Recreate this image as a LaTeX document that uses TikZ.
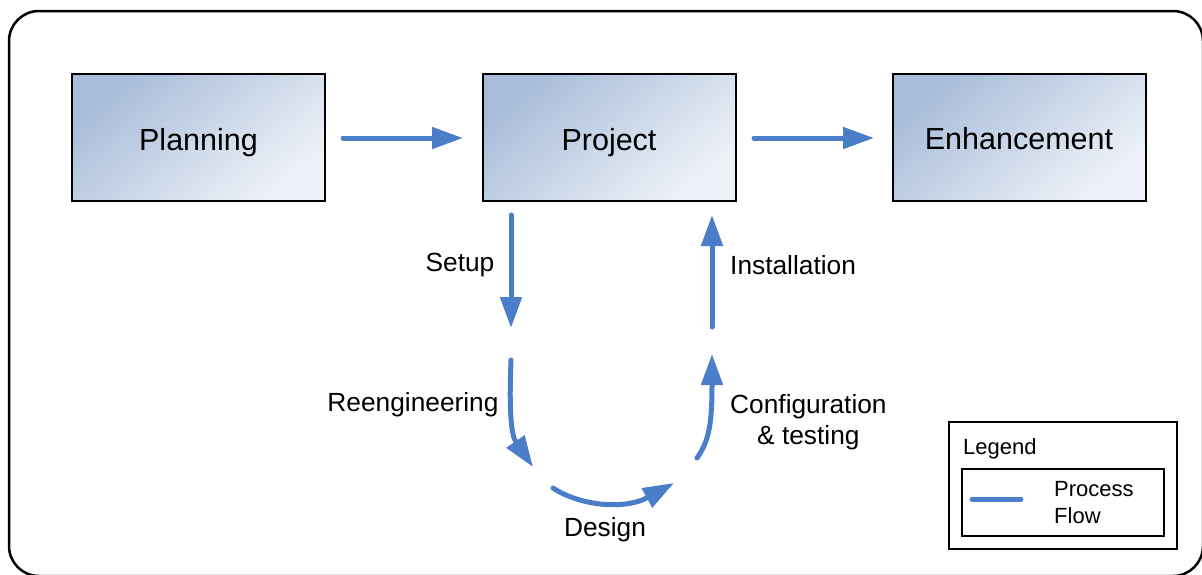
\documentclass[tikz,border=0pt]{standalone}
\usepackage{fontspec}
\setmainfont{Liberation Sans}
\usetikzlibrary{arrows.meta,calc}
\definecolor{flow}{RGB}{74,126,201}
\definecolor{boxdark}{RGB}{168,188,217}
\definecolor{boxlight}{RGB}{238,242,248}
\tikzset{
  stagebox/.style={draw=black, line width=2pt, minimum width=253pt, minimum height=127pt,
    top color=boxdark, bottom color=boxlight, shading angle=40,
    font=\fontsize{30.5}{36}\selectfont, inner sep=0pt, text depth=0pt},
  flowarrow/.style={draw=flow, line width=5pt, line cap=round, -{Triangle[length=31pt,width=21pt]}},
  steplabel/.style={font=\fontsize{26.3}{31}\selectfont, inner sep=0pt},
  legendtext/.style={font=\fontsize{22}{27}\selectfont, inner sep=0pt},
  framebox/.style={draw=black, line width=2pt}
}
\begin{document}
\begin{tikzpicture}[x=1pt,y=-1pt]
\useasboundingbox (0,0) rectangle (1202,574);
\begin{scope}
\clip (0,0) rectangle (1202,574);
\draw[line width=2.5pt, rounded corners=30pt] (9,11) rectangle (1203,576);
\end{scope}

% stage boxes
\node[stagebox] (plan) at (198.5,137.5) {\raisebox{-3pt}{Planning}};
\node[stagebox] (proj) at (609,137.5) {\raisebox{-3pt}{Project}};
\node[stagebox] (enh) at (1019,137.5) {\raisebox{-1pt}{Enhancement}};

% coordinates for floating arrow ends
\coordinate (a1s) at (343,138);
\coordinate (a1e) at (463,138);
\coordinate (a2s) at (754,138);
\coordinate (a2e) at (874,138);
\coordinate (sets) at (511,215);
\coordinate (sete) at (511,328);
\coordinate (rees) at (511,360);
\coordinate (reee) at (533,467);
\coordinate (dess) at (553,488);
\coordinate (dese) at (674,483);
\coordinate (cons) at (697,458);
\coordinate (cone) at (712,354);
\coordinate (inss) at (712,327);
\coordinate (inse) at (712,215);

\draw[flowarrow] (a1s) -- (a1e);
\draw[flowarrow] (a2s) -- (a2e);
\draw[flowarrow] (sets) -- (sete);
\draw[flowarrow] (inss) -- (inse);
\draw[flowarrow] (rees) .. controls (509,410) and (511,435) .. (reee);
\draw[flowarrow] (dess) .. controls (580,506) and (625,510) .. (dese);
\draw[flowarrow] (cons) .. controls (710,440) and (712,420) .. (cone);

% step labels
\node[steplabel] (lsetup) at (460,265) {Setup};
\node[steplabel, anchor=west] (linst) at (730,265) {Installation};
\node[steplabel] (lreen) at (413,405) {Reengineering};
\node[steplabel, anchor=west, align=left] (lconf) at (730,422) {Configuration\\\hspace*{27pt}\& testing};
\node[steplabel] (ldes) at (605,530) {Design};

% legend
\node[framebox, minimum width=228pt, minimum height=127pt, inner sep=0pt] (legbox) at (1063,485.5) {};
\node[legendtext, anchor=west] (legtitle) at (963,449) {Legend};
\node[framebox, minimum width=202pt, minimum height=67pt, inner sep=0pt] (leginner) at (1063,502.5) {};
\coordinate (ls) at (972,499);
\coordinate (le) at (1021,499);
\draw[draw=flow, line width=5pt, line cap=round] (ls) -- (le);
\node[legendtext, anchor=west, align=left] (legflow) at (1054,503) {Process\\Flow};
\end{tikzpicture}
\end{document}
